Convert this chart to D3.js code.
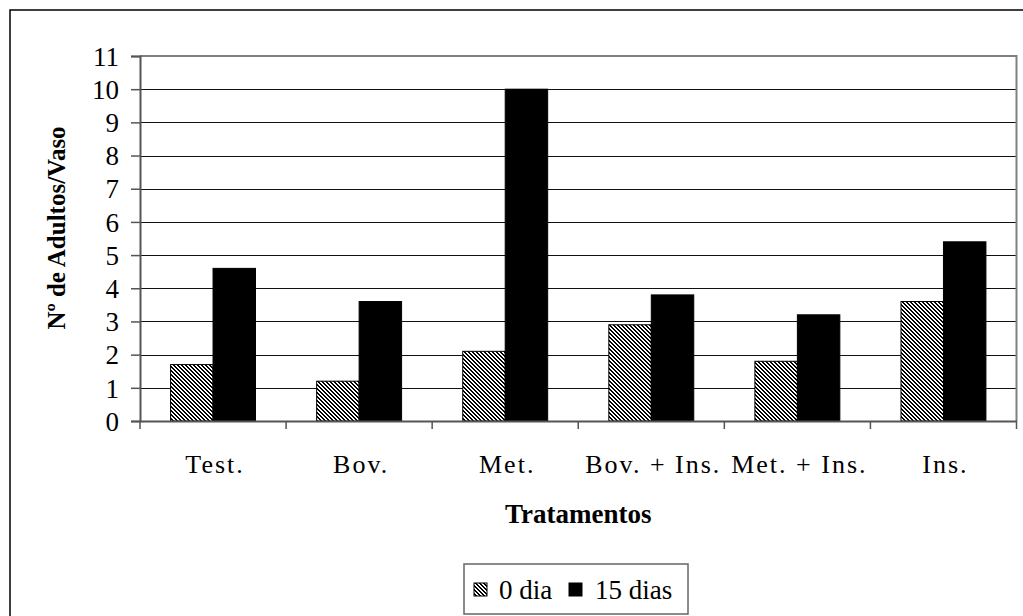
<!DOCTYPE html>
<html>
<head>
<meta charset="utf-8">
<script src="https://cdn.jsdelivr.net/npm/d3@7"></script>
<style>
html,body{margin:0;padding:0;background:#fff;}
svg{display:block;}
text{font-family:"Times New Roman","Liberation Serif",serif;fill:#000;}
</style>
</head>
<body>
<svg id="chart" width="1023" height="616"></svg>
<script>
const categories = ["Test.", "Bov.", "Met.", "Bov. + Ins.", "Met. + Ins.", "Ins."];
const seriesNames = ["0 dia", "15 dias"];
const dia0 = [1.7, 1.2, 2.1, 2.9, 1.8, 3.6];
const dias15 = [4.6, 3.6, 10.0, 3.8, 3.2, 5.4];
const yTicks = [0,1,2,3,4,5,6,7,8,9,10,11];
const yTitle = "Nº de Adultos/Vaso";
const xTitle = "Tratamentos";

const svg = d3.select("#chart");
const W = 1023, H = 616;
const plot = {left:140, right:1016.5, top:56, bottom:421};

// crisp diagonal hatch pattern ("\" direction)
const defs = svg.append("defs");
const pat = defs.append("pattern").attr("id","hatch")
  .attr("patternUnits","userSpaceOnUse").attr("width",4).attr("height",4);
pat.append("rect").attr("width",4).attr("height",4).attr("fill","#fff");
[[0,0],[1,1],[2,2],[3,3],[-1,3]].forEach(([px,py])=>{
  pat.append("rect").attr("x",px).attr("y",py).attr("width",2).attr("height",1)
    .attr("fill","#000").attr("shape-rendering","crispEdges");
});
pat.append("rect").attr("x",0).attr("y",3).attr("width",1).attr("height",1)
  .attr("fill","#000").attr("shape-rendering","crispEdges");

// outer border
svg.append("rect").attr("x",10).attr("y",10).attr("width",W+20).attr("height",H+20)
  .attr("fill","none").attr("stroke","#000").attr("stroke-width",1.5);

const x0 = d3.scaleBand().domain(categories).range([plot.left, plot.right]).padding(0);
const x1 = d3.scaleBand().domain(seriesNames).range([0, x0.bandwidth()]).paddingInner(0).paddingOuter(0.72);
const y = d3.scaleLinear().domain([0,11]).range([plot.bottom, plot.top]);

// gridlines
svg.append("g").selectAll("line").data(yTicks.filter(d=>d>0 && d<11)).join("line")
  .attr("x1",plot.left).attr("x2",plot.right)
  .attr("y1",d=>Math.round(y(d))+0.5).attr("y2",d=>Math.round(y(d))+0.5)
  .attr("stroke","#111").attr("stroke-width",1);

// plot border top/right
svg.append("path")
  .attr("d",`M${plot.left},${Math.round(y(11))} H${plot.right} V${plot.bottom}`)
  .attr("fill","none").attr("stroke","#808080").attr("stroke-width",2);

// bars
const data = categories.map((c,i)=>({cat:c, vals:[dia0[i], dias15[i]]}));
const g = svg.append("g");
data.forEach(d=>{
  seriesNames.forEach((s,j)=>{
    g.append("rect")
      .attr("x", x0(d.cat)+x1(s))
      .attr("y", y(d.vals[j]))
      .attr("width", x1.bandwidth())
      .attr("height", y(0)-y(d.vals[j]))
      .attr("fill", j===0 ? "url(#hatch)" : "#000")
      .attr("stroke", "#000").attr("stroke-width",1);
  });
});

// y axis
const yAxis = d3.axisLeft(y).tickValues(yTicks).tickSize(9).tickPadding(12);
const ya = svg.append("g").attr("transform",`translate(${plot.left},0)`).call(yAxis);
ya.attr("font-family",null);
ya.select(".domain").attr("stroke","#555").attr("stroke-width",2);
ya.selectAll(".tick line").attr("stroke","#555").attr("stroke-width",1.5);
ya.selectAll(".tick text").style("font-size","27px").attr("fill","#000").attr("dy","0.34em");

// x axis
const xa = svg.append("g").attr("transform",`translate(0,${plot.bottom})`)
  .call(d3.axisBottom(x0).tickSize(0).tickFormat(""));
xa.select(".domain").attr("stroke","#555").attr("stroke-width",2);
const boundaries = d3.range(categories.length+1).map(i=>plot.left + i*x0.step());
svg.append("g").selectAll("line").data(boundaries).join("line")
  .attr("x1",d=>d).attr("x2",d=>d).attr("y1",plot.bottom).attr("y2",plot.bottom+8)
  .attr("stroke","#555").attr("stroke-width",1.5);
svg.append("g").selectAll("text").data(categories).join("text")
  .attr("x",d=>x0(d)+x0.bandwidth()/2+2).attr("y",473)
  .attr("text-anchor","middle").style("font-size","26px").style("letter-spacing","2px")
  .text(d=>d);

// titles
svg.append("text").attr("x",(plot.left+plot.right)/2).attr("y",523)
  .attr("text-anchor","middle").style("font-size","27px").style("font-weight","bold").text(xTitle);
svg.append("text").attr("transform","translate(65,228) rotate(-90)")
  .attr("text-anchor","middle").style("font-size","25px").style("font-weight","bold").text(yTitle);

// legend
const lg = svg.append("g");
lg.append("rect").attr("x",464).attr("y",564).attr("width",224).attr("height",50)
  .attr("fill","#fff").attr("stroke","#666").attr("stroke-width",1.5);
const legItems = [
  {name:seriesNames[0], fill:"url(#hatch)", sx:474, tx:499},
  {name:seriesNames[1], fill:"#000", sx:569, tx:595}
];
legItems.forEach(it=>{
  lg.append("rect").attr("x",it.sx).attr("y",583).attr("width",13).attr("height",13)
    .attr("fill",it.fill).attr("stroke","#000").attr("stroke-width",1);
  lg.append("text").attr("x",it.tx).attr("y",599).style("font-size","27px").text(it.name);
});
</script>
</body>
</html>
